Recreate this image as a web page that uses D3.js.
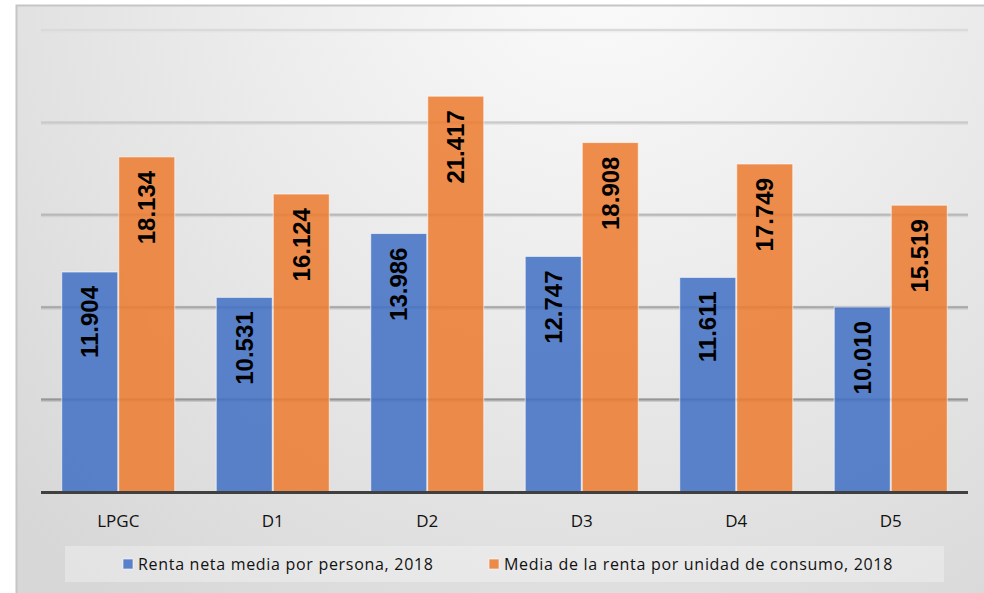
<!DOCTYPE html>
<html>
<head>
<meta charset="utf-8">
<script src="https://cdn.jsdelivr.net/npm/d3@7"></script>
<style>
  body { margin: 0; background: #fff; }
</style>
</head>
<body>
<div class="chart"></div>
<script>
// DATA
// ----------------------------
const categories = ['LPGC', 'D1', 'D2', 'D3', 'D4', 'D5']
const seriesNames = ['Renta neta media por persona, 2018', 'Media de la renta por unidad de consumo, 2018']
const rentaPersona = [11904, 10531, 13986, 12747, 11611, 10010]
const rentaUnidad = [18134, 16124, 21417, 18908, 17749, 15519]
const yTicks = [0, 5000, 10000, 15000, 20000, 25000]

const seriesColors = ['#4472C4', '#ED7D31']

// SETUP
// ----------------------------
const fullWidth = 984
const fullHeight = 593
const plot = { left: 41, right: 968, top: 30, bottom: 492 }

const svg = d3.select('.chart')
  .append('svg')
    .attr('width', fullWidth)
    .attr('height', fullHeight)

const defs = svg.append('defs')

const bg = defs.append('radialGradient')
  .attr('id', 'bg')
  .attr('gradientUnits', 'userSpaceOnUse')
  .attr('cx', 600).attr('cy', -60).attr('r', 820)
bg.append('stop').attr('offset', 0).attr('stop-color', '#fcfcfc')
bg.append('stop').attr('offset', 1).attr('stop-color', '#d7d7d7')

const gridGrad = defs.append('linearGradient')
  .attr('id', 'grid')
  .attr('gradientUnits', 'userSpaceOnUse')
  .attr('x1', 0).attr('y1', plot.top).attr('x2', 0).attr('y2', plot.bottom)
gridGrad.append('stop').attr('offset', 0).attr('stop-color', '#dadada')
gridGrad.append('stop').attr('offset', 1).attr('stop-color', '#858585')

// chart frame
svg.append('rect')
  .attr('x', 16.5).attr('y', 5.5)
  .attr('width', 990).attr('height', 600)
  .attr('fill', 'url(#bg)')
  .attr('stroke', '#c6c6c6')
  .attr('stroke-width', 2)

// SCALES
// ----------------------------
const x0 = d3.scaleBand()
  .domain(categories)
  .range([plot.left, plot.right])
  .paddingInner(0.262)
  .paddingOuter(0.131)

const x1 = d3.scaleBand()
  .domain(d3.range(seriesNames.length))
  .range([0, x0.bandwidth()])

const yScale = d3.scaleLinear()
  .domain([0, 25000])
  .range([plot.bottom, plot.top])

// GRIDLINES (soft halo + line)
// ----------------------------
const grid = svg.append('g')
grid.selectAll('.halo')
  .data(yTicks.slice(1))
  .enter()
  .append('line')
    .attr('class', 'halo')
    .attr('x1', plot.left)
    .attr('x2', plot.right)
    .attr('y1', d => yScale(d) + 0.5)
    .attr('y2', d => yScale(d) + 0.5)
    .attr('stroke', 'url(#grid)')
    .attr('stroke-opacity', 0.35)
    .attr('stroke-width', 4)
grid.selectAll('.gl')
  .data(yTicks.slice(1))
  .enter()
  .append('line')
    .attr('class', 'gl')
    .attr('x1', plot.left)
    .attr('x2', plot.right)
    .attr('y1', d => yScale(d))
    .attr('y2', d => yScale(d))
    .attr('stroke', 'url(#grid)')
    .attr('stroke-width', 2)

// BARS
// ----------------------------
const rows = categories.map((c, i) => ({ cat: c, values: [rentaPersona[i], rentaUnidad[i]] }))
const fmt = d3.formatLocale({ decimal: ',', thousands: '.', grouping: [3], currency: ['', '€'] }).format(',')

const groups = svg.selectAll('.grp')
  .data(rows)
  .enter()
  .append('g')
    .attr('class', 'grp')
    .attr('transform', d => `translate(${x0(d.cat)}, 0)`)

const bars = groups.selectAll('.bar')
  .data(d => d.values.map((v, s) => ({ v, s })))
  .enter()
  .append('g')
    .attr('class', 'bar')

bars.append('rect')
  .attr('x', d => x1(d.s) + 0.5)
  .attr('y', d => yScale(d.v))
  .attr('width', x1.bandwidth() - 1)
  .attr('height', d => yScale(0) - yScale(d.v))
  .attr('fill', d => seriesColors[d.s])
  .attr('fill-opacity', 0.87)
  .attr('stroke', '#ffffff')
  .attr('stroke-opacity', 0.6)
  .attr('stroke-width', 1)

bars.append('text')
  .attr('transform', d => `translate(${x1(d.s) + x1.bandwidth() / 2}, ${yScale(d.v) + 14}) rotate(-90)`)
  .attr('dy', '0.36em')
  .attr('text-anchor', 'end')
  .style('font-family', '"Liberation Sans", Arial, sans-serif')
  .style('font-weight', 'bold')
  .style('font-size', '24px')
  .style('fill', '#000')
  .text(d => fmt(d.v))

// baseline
svg.append('line')
  .attr('x1', plot.left).attr('x2', plot.right)
  .attr('y1', yScale(0) + 0.5).attr('y2', yScale(0) + 0.5)
  .attr('stroke', '#404040')
  .attr('stroke-width', 3)

// X AXIS
// ----------------------------
const xAxis = d3.axisBottom(x0).tickSize(0).tickPadding(0)
const xg = svg.append('g')
  .attr('transform', `translate(0, ${plot.bottom})`)
  .call(xAxis)
xg.select('.domain').remove()
xg.selectAll('text')
  .attr('y', 35)
  .attr('dy', 0)
  .style('font-family', '"Open Sans", "Liberation Sans", sans-serif')
  .style('font-size', '17px')
  .style('fill', '#111')

// LEGEND
// ----------------------------
svg.append('rect')
  .attr('x', 65).attr('y', 546)
  .attr('width', 879).attr('height', 36)
  .attr('fill', '#ffffff')
  .attr('fill-opacity', 0.3)

const legendX = [123, 489]
const legend = svg.selectAll('.legend')
  .data(seriesNames)
  .enter()
  .append('g')
    .attr('class', 'legend')
    .attr('transform', (d, i) => `translate(${legendX[i]}, 564)`)

legend.append('rect')
  .attr('x', 0).attr('y', -5)
  .attr('width', 10).attr('height', 10)
  .attr('fill', (d, i) => seriesColors[i])
  .attr('fill-opacity', 0.87)
  .attr('stroke', '#fff')
  .attr('stroke-opacity', 0.6)

legend.append('text')
  .attr('x', 15)
  .attr('dy', '0.35em')
  .style('font-family', '"Open Sans", "Liberation Sans", sans-serif')
  .style('font-size', '16px')
  .style('letter-spacing', '0.7px')
  .style('fill', '#111')
  .text(d => d)
</script>
</body>
</html>
